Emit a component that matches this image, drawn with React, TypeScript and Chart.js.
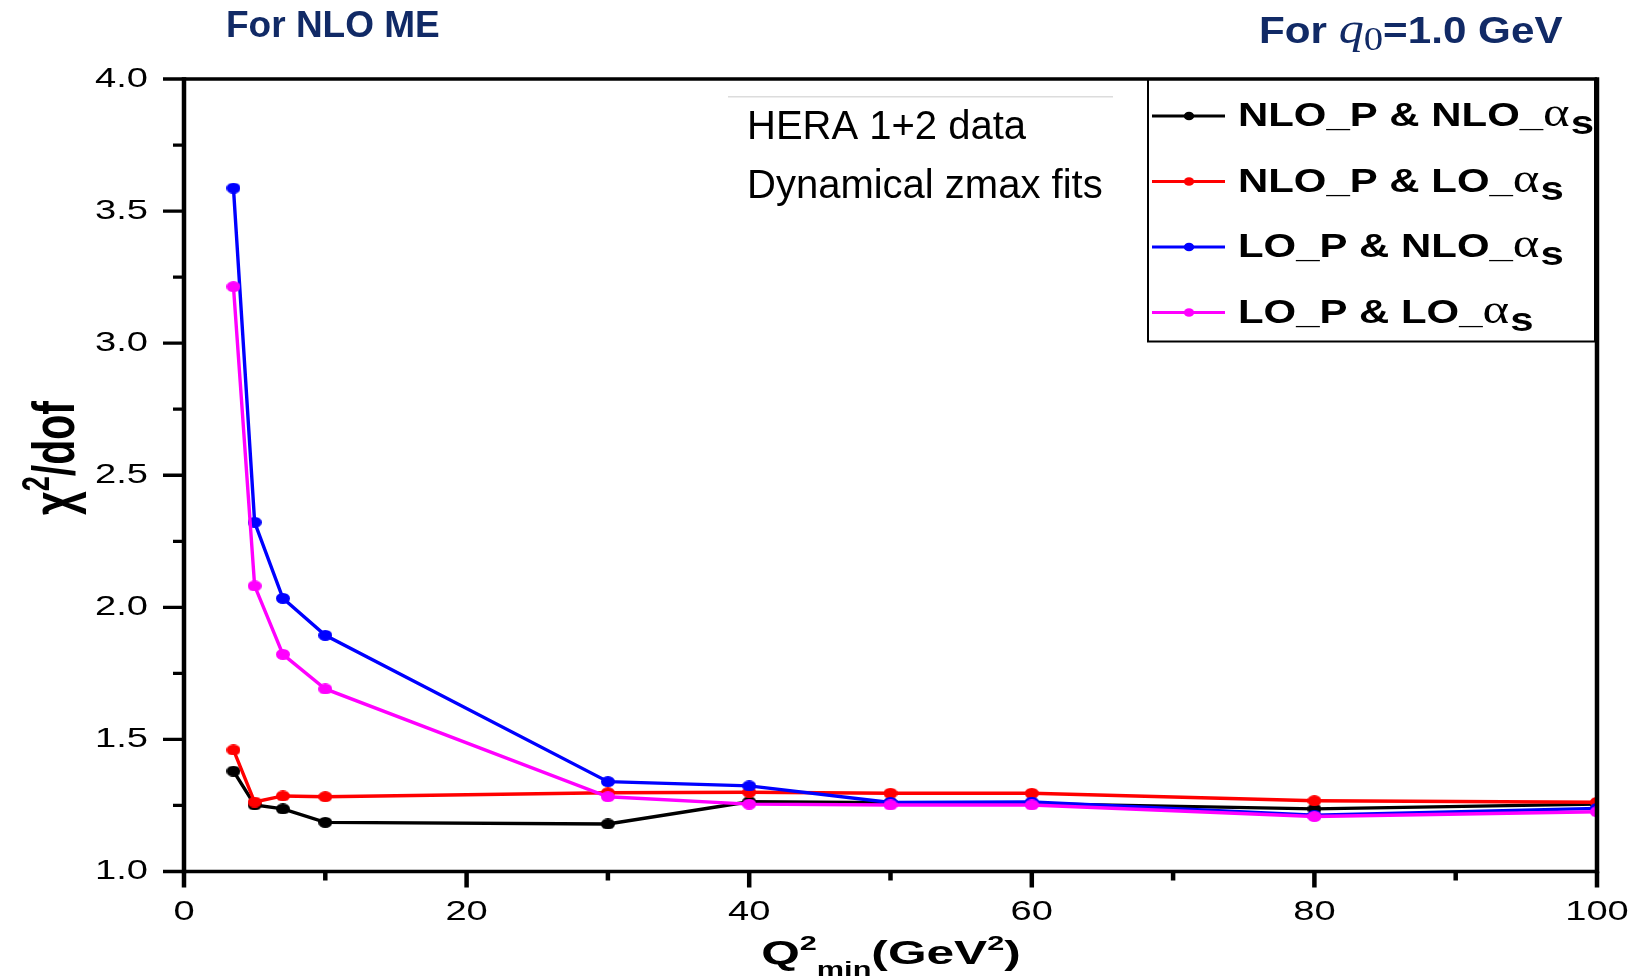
import React, { useEffect, useRef } from 'react';
import { Chart, registerables } from 'chart.js';

Chart.register(...registerables);

// ---------- data ----------
const Q2_MIN = [3.5, 5, 7, 10, 30, 40, 50, 60, 80, 100];
const CHI2_NLO_P_NLO_AS = [1.38, 1.252, 1.237, 1.186, 1.18, 1.264, 1.26, 1.257, 1.237, 1.255];
const CHI2_NLO_P_LO_AS = [1.46, 1.263, 1.286, 1.283, 1.298, 1.3, 1.296, 1.296, 1.268, 1.262];
const CHI2_LO_P_NLO_AS = [3.587, 2.322, 2.034, 1.894, 1.34, 1.324, 1.261, 1.263, 1.213, 1.239];
const CHI2_LO_P_LO_AS = [3.214, 2.081, 1.822, 1.691, 1.283, 1.255, 1.252, 1.252, 1.208, 1.226];

const SERIES_NAMES = ['NLO_P & NLO_', 'NLO_P & LO_', 'LO_P & NLO_', 'LO_P & LO_'];

const X_MAJOR_TICKS = [0, 20, 40, 60, 80, 100];
const X_TICK_LABELS = ['0', '20', '40', '60', '80', '100'];
const X_MINOR_TICKS = [10, 30, 50, 70, 90];
const Y_MAJOR_TICKS = [1.0, 1.5, 2.0, 2.5, 3.0, 3.5, 4.0];
const Y_TICK_LABELS = ['1.0', '1.5', '2.0', '2.5', '3.0', '3.5', '4.0'];
const Y_MINOR_TICKS = [1.25, 1.75, 2.25, 2.75, 3.25, 3.75];

const ANNOTATION_LINES = ['HERA 1+2 data', 'Dynamical zmax fits'];
const TITLE_LEFT = 'For NLO ME';

// ---------- helpers ----------
const SANS = '"Liberation Sans", Arial, sans-serif';
const SERIF = '"Liberation Serif", "Times New Roman", serif';
const NAVY = '#112a66';

function ellipseDot(color: string, w: number, h: number) {
  const c = document.createElement('canvas');
  c.width = w;
  c.height = h;
  const g = c.getContext('2d')!;
  g.fillStyle = color;
  g.beginPath();
  g.ellipse(w / 2, h / 2, w / 2, h / 2, 0, 0, Math.PI * 2);
  g.fill();
  return c;
}

function sText(ctx: CanvasRenderingContext2D, text: string, x: number, y: number, sx: number, align: CanvasTextAlign = 'left') {
  ctx.save();
  ctx.translate(x, y);
  ctx.scale(sx, 1);
  ctx.textAlign = align;
  ctx.fillText(text, 0, 0);
  ctx.restore();
}

function w(ctx: CanvasRenderingContext2D, font: string, text: string, sx: number) {
  ctx.font = font;
  return ctx.measureText(text).width * sx;
}

const decorPlugin = {
  id: 'decor',
  afterDraw(chart: any) {
    const { ctx, chartArea: a, scales } = chart;
    const xs = scales.x;
    const ys = scales.y;
    ctx.save();
    ctx.textBaseline = 'alphabetic';

    // annotation
    ctx.strokeStyle = '#dcdcdc';
    ctx.lineWidth = 1.5;
    ctx.beginPath();
    ctx.moveTo(728, 96.7);
    ctx.lineTo(1113, 96.7);
    ctx.stroke();
    ctx.fillStyle = '#000';
    ctx.font = '40px ' + SANS;
    ctx.textAlign = 'left';
    ctx.fillText(ANNOTATION_LINES[0], 747, 139);
    ctx.fillText(ANNOTATION_LINES[1], 747, 198);

    // legend
    const lx = 1148, ly = a.top, lw = 447, lh = 262.5;
    ctx.fillStyle = '#fff';
    ctx.fillRect(lx, ly, lw, lh);
    ctx.strokeStyle = '#000';
    ctx.lineWidth = 2;
    ctx.strokeRect(lx, ly, lw, lh);
    const LSX = 1.27;
    chart.data.datasets.forEach((ds: any, i: number) => {
      const ry = 116 + i * 65.5;
      ctx.strokeStyle = ds.borderColor;
      ctx.lineWidth = 2.8;
      ctx.beginPath();
      ctx.moveTo(1152, ry);
      ctx.lineTo(1225, ry);
      ctx.stroke();
      ctx.fillStyle = ds.borderColor;
      ctx.beginPath();
      ctx.ellipse(1189, ry, 5.2, 4.3, 0, 0, Math.PI * 2);
      ctx.fill();
      ctx.fillStyle = '#000';
      const base = ry + 10;
      let x = 1238;
      const f1 = 'bold 33px ' + SANS;
      ctx.font = f1;
      sText(ctx, SERIES_NAMES[i], x, base, LSX);
      x += w(ctx, f1, SERIES_NAMES[i], LSX);
      const f2 = '40px ' + SERIF;
      ctx.font = f2;
      sText(ctx, 'α', x, base, LSX);
      x += w(ctx, f2, 'α', LSX) + 1;
      ctx.font = f1;
      sText(ctx, 's', x, base + 8, LSX);
    });

    // frame
    ctx.strokeStyle = '#000';
    ctx.lineCap = 'butt';
    ctx.lineWidth = 3.3;
    ctx.beginPath();
    ctx.moveTo(a.left, a.top);
    ctx.lineTo(a.right, a.top);
    ctx.moveTo(a.left, a.bottom);
    ctx.lineTo(a.right, a.bottom);
    ctx.stroke();
    ctx.lineWidth = 4.5;
    ctx.beginPath();
    ctx.moveTo(a.left, a.top - 1.65);
    ctx.lineTo(a.left, a.bottom + 1.65);
    ctx.moveTo(a.right, a.top - 1.65);
    ctx.lineTo(a.right, a.bottom + 1.65);
    ctx.stroke();

    // y ticks
    ctx.lineWidth = 3.3;
    ctx.beginPath();
    Y_MAJOR_TICKS.forEach((v) => {
      const y = ys.getPixelForValue(v);
      ctx.moveTo(a.left - 21, y);
      ctx.lineTo(a.left, y);
    });
    Y_MINOR_TICKS.forEach((v) => {
      const y = ys.getPixelForValue(v);
      ctx.moveTo(a.left - 11, y);
      ctx.lineTo(a.left, y);
    });
    ctx.stroke();
    // x ticks
    ctx.lineWidth = 4.5;
    ctx.beginPath();
    X_MAJOR_TICKS.forEach((v) => {
      const x = xs.getPixelForValue(v);
      ctx.moveTo(x, a.bottom);
      ctx.lineTo(x, a.bottom + 16);
    });
    X_MINOR_TICKS.forEach((v) => {
      const x = xs.getPixelForValue(v);
      ctx.moveTo(x, a.bottom);
      ctx.lineTo(x, a.bottom + 9);
    });
    ctx.stroke();

    // tick labels
    const TSX = 1.36;
    ctx.fillStyle = '#000';
    ctx.font = '28px ' + SANS;
    ctx.textBaseline = 'middle';
    Y_MAJOR_TICKS.forEach((v, i) => {
      sText(ctx, Y_TICK_LABELS[i], a.left - 36, ys.getPixelForValue(v), TSX, 'right');
    });
    ctx.textBaseline = 'alphabetic';
    X_MAJOR_TICKS.forEach((v, i) => {
      sText(ctx, X_TICK_LABELS[i], xs.getPixelForValue(v), 920, TSX, 'center');
    });

    // x axis title: Q^2_min(GeV^2)
    {
      const XSX = 1.46;
      const fb = 'bold 34px ' + SANS;
      const fs = 'bold 21px ' + SANS;
      const parts: [string, string, number][] = [
        ['Q', fb, 0],
        ['2', fs, -14],
        ['min', fs, 12],
        ['(GeV', fb, 0],
        ['2', fs, -14],
        [')', fb, 0],
      ];
      let total = 0;
      parts.forEach(([t, f]) => (total += w(ctx, f, t, XSX)));
      let x = 891 - total / 2;
      const base = 964;
      parts.forEach(([t, f, dy]) => {
        ctx.font = f;
        sText(ctx, t, x, base + dy, XSX);
        x += w(ctx, f, t, XSX);
      });
    }

    // y axis title: chi^2/dof (rotated)
    {
      ctx.save();
      ctx.translate(74, 458);
      ctx.scale(1.45, 1);
      ctx.rotate(-Math.PI / 2);
      const fb = 'bold 41px ' + SANS;
      const fs = 'bold 27px ' + SANS;
      const parts: [string, string, number][] = [
        ['χ', fb, 0],
        ['2', fs, -17],
        ['/dof', fb, 0],
      ];
      let total = 0;
      parts.forEach(([t, f]) => (total += w(ctx, f, t, 1)));
      let x = -total / 2;
      ctx.textAlign = 'left';
      parts.forEach(([t, f, dy]) => {
        ctx.font = f;
        ctx.fillText(t, x, dy);
        x += w(ctx, f, t, 1);
      });
      ctx.restore();
    }

    // top titles
    ctx.fillStyle = NAVY;
    ctx.font = 'bold 37px ' + SANS;
    ctx.textAlign = 'left';
    ctx.fillText(TITLE_LEFT, 226, 37);
    {
      const RSX = 1.14;
      const fb = 'bold 37px ' + SANS;
      const fq = 'italic 44px ' + SERIF;
      const f0 = '34px ' + SERIF;
      const parts: [string, string, number][] = [
        ['For ', fb, 0],
        ['q', fq, 0],
        ['0', f0, 7],
        ['=1.0 GeV', fb, 0],
      ];
      let x = 1259;
      parts.forEach(([t, f, dy]) => {
        ctx.font = f;
        sText(ctx, t, x, 43 + dy, RSX);
        x += w(ctx, f, t, RSX);
      });
    }

    ctx.restore();
  },
};

export default function App() {
  const ref = useRef<HTMLCanvasElement | null>(null);

  useEffect(() => {
    if (!ref.current) return;
    const mk = (vals: number[]) => Q2_MIN.map((x, i) => ({ x, y: vals[i] }));
    const style = (color: string, order: number) => ({
      borderColor: color,
      backgroundColor: color,
      borderWidth: 3.4,
      pointStyle: ellipseDot(color, 14, 11) as any,
      pointRadius: 7,
      showLine: true,
      tension: 0,
      fill: false,
      order,
    });
    const chart = new Chart(ref.current, {
      type: 'scatter',
      data: {
        datasets: [
          { label: SERIES_NAMES[0] + 'αs', data: mk(CHI2_NLO_P_NLO_AS), ...style('#000000', 3) },
          { label: SERIES_NAMES[1] + 'αs', data: mk(CHI2_NLO_P_LO_AS), ...style('#ff0000', 2) },
          { label: SERIES_NAMES[2] + 'αs', data: mk(CHI2_LO_P_NLO_AS), ...style('#0000ff', 1) },
          { label: SERIES_NAMES[3] + 'αs', data: mk(CHI2_LO_P_LO_AS), ...style('#ff00ff', 0) },
        ] as any,
      },
      options: {
        animation: false,
        responsive: true,
        maintainAspectRatio: false,
        devicePixelRatio: 1,
        events: [],
        layout: { padding: { left: 0, top: 79, right: 45, bottom: 0 } },
        plugins: {
          legend: { display: false },
          tooltip: { enabled: false },
          title: { display: false },
        },
        scales: {
          x: {
            type: 'linear',
            min: 0,
            max: 100,
            grid: { display: false },
            border: { display: false },
            ticks: { display: false },
            afterFit: (s: any) => {
              s.height = 107.5;
            },
          },
          y: {
            type: 'linear',
            min: 1,
            max: 4,
            grid: { display: false },
            border: { display: false },
            ticks: { display: false },
            afterFit: (s: any) => {
              s.width = 184;
            },
          },
        },
      } as any,
      plugins: [decorPlugin],
    });
    return () => chart.destroy();
  }, []);

  return (
    <div style={{ position: 'fixed', left: 0, top: 0, width: 1642, height: 979, background: '#fff' }}>
      <canvas ref={ref} />
    </div>
  );
}
